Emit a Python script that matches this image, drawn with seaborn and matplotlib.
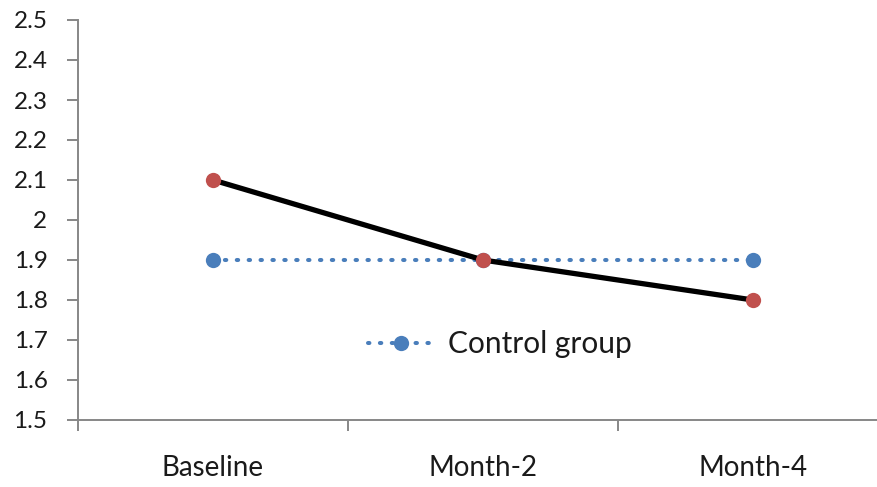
import matplotlib
matplotlib.use("Agg")
import matplotlib.pyplot as plt
from matplotlib.lines import Line2D
from matplotlib.ticker import FixedLocator
import seaborn as sns
import pandas as pd

categories = ["Baseline", "Month-2", "Month-4"]
control_values = [1.9, 1.9, 1.9]
intervention_values = [2.1, 1.9, 1.8]
y_ticks = [1.5, 1.6, 1.7, 1.8, 1.9, 2.0, 2.1, 2.2, 2.3, 2.4, 2.5]
y_tick_labels = ["1.5", "1.6", "1.7", "1.8", "1.9", "2", "2.1", "2.2", "2.3", "2.4", "2.5"]

sns.set_theme(style="white")
plt.rcParams["font.family"] = ["Lato", "DejaVu Sans"]

blue = "#4A7EBB"
red = "#C0504D"
spine_gray = "#878787"
text_col = "#1A1A1A"
dot_style = (0, (0.35, 2.6))

fig = plt.figure(figsize=(8.77, 4.87), dpi=100)
ax = fig.add_axes([78 / 877, 67 / 487, 810 / 877, 400 / 487])

x_pos = list(range(len(categories)))
df_ctrl = pd.DataFrame({"x": x_pos, "y": control_values})
df_int = pd.DataFrame({"x": x_pos, "y": intervention_values})

sns.lineplot(data=df_ctrl, x="x", y="y", ax=ax, color=blue, linewidth=2.9,
             linestyle=dot_style, dash_capstyle="round",
             marker="o", markersize=11, markeredgewidth=0,
             markerfacecolor=blue, zorder=2)
sns.lineplot(data=df_int, x="x", y="y", ax=ax, color="black", linewidth=3.8,
             marker="o", markersize=11, markeredgewidth=0,
             markerfacecolor=red, zorder=3)

ax.set_xlim(-0.5, 2.5)
ax.set_ylim(1.5, 2.5)
ax.set_xlabel("")
ax.set_ylabel("")

ax.set_xticks(x_pos)
ax.set_xticklabels(categories, fontsize=20, color=text_col)
ax.xaxis.set_minor_locator(FixedLocator([-0.5, 0.5, 1.5, 2.5]))
ax.tick_params(axis="x", which="major", length=0, pad=25)
ax.tick_params(axis="x", which="minor", bottom=True, length=8, width=1.4,
               color=spine_gray, direction="out")

ax.set_yticks(y_ticks)
ax.set_yticklabels(y_tick_labels, fontsize=17.5, color=text_col)
ax.tick_params(axis="y", which="major", left=True, length=8, width=1.4,
               color=spine_gray, direction="out", pad=14)

for side in ["top", "right"]:
    ax.spines[side].set_visible(False)
for side in ["left", "bottom"]:
    ax.spines[side].set_color(spine_gray)
    ax.spines[side].set_linewidth(1.4)

handle = Line2D([], [], color=blue, linewidth=2.9, linestyle=dot_style,
                dash_capstyle="round", marker="o", markersize=11,
                markeredgewidth=0, markerfacecolor=blue)
leg = ax.legend([handle], ["Control group"], loc="center",
                bbox_to_anchor=((500 - 78) / 810, (487 - 344 - 67) / 400),
                frameon=False, fontsize=21.5, handlelength=2.2,
                handletextpad=0.5)
for t in leg.get_texts():
    t.set_color(text_col)

fig.savefig("out.png", dpi=100)
